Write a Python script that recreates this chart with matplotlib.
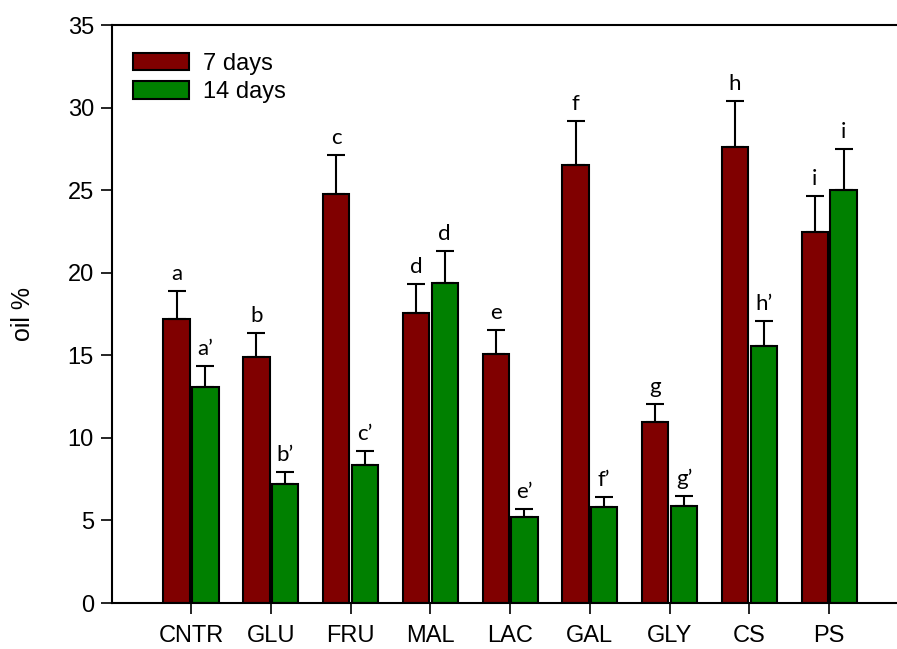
import numpy as np
import matplotlib
matplotlib.use('Agg')
from matplotlib import pyplot as plt
from matplotlib.patches import Patch

# Data #
groups = ['CNTR', 'GLU', 'FRU', 'MAL', 'LAC', 'GAL', 'GLY', 'CS', 'PS']
oil_7 = [17.2, 14.9, 24.75, 17.55, 15.1, 26.5, 10.95, 27.6, 22.45]
err_7 = [1.7, 1.45, 2.4, 1.75, 1.45, 2.7, 1.1, 2.8, 2.2]
oil_14 = [13.05, 7.2, 8.35, 19.4, 5.2, 5.8, 5.9, 15.55, 25.0]
err_14 = [1.3, 0.72, 0.85, 1.9, 0.5, 0.6, 0.55, 1.5, 2.5]
lab_7 = ['a', 'b', 'c', 'd', 'e', 'f', 'g', 'h', 'i']
lab_14 = ['a\u2019', 'b\u2019', 'c\u2019', 'd', 'e\u2019', 'f\u2019', 'g\u2019', 'h\u2019', 'i']

RED = '#800000'
GREEN = '#008000'

plt.rcParams['font.family'] = ['Liberation Sans', 'DejaVu Sans']

fig = plt.figure(figsize=(8.97, 6.49), dpi=100)
ax = fig.add_axes([112 / 897, 1 - 603 / 649, 1 - 112 / 897, (603 - 25) / 649])

x = np.arange(len(groups))
w = 0.33
off = 0.18
err_kw = dict(ecolor='black', elinewidth=1.5, capsize=6.5, capthick=1.5)
ax.bar(x - off, oil_7, w, color=RED, edgecolor='black', linewidth=1.5,
       yerr=[np.zeros(len(groups)), err_7], error_kw=err_kw, zorder=2)
ax.bar(x + off, oil_14, w, color=GREEN, edgecolor='black', linewidth=1.5,
       yerr=[np.zeros(len(groups)), err_14], error_kw=err_kw, zorder=2)

# Significance letters above the error bars #
for i in range(len(groups)):
    ax.annotate(lab_7[i], (x[i] - off, oil_7[i] + err_7[i]), xytext=(0, 8),
                textcoords='offset points', ha='center', va='baseline',
                fontsize=16, family=['Lato', 'DejaVu Sans'])
    ax.annotate(lab_14[i], (x[i] + off, oil_14[i] + err_14[i]), xytext=(0, 8),
                textcoords='offset points', ha='center', va='baseline',
                fontsize=16, family=['Lato', 'DejaVu Sans'])

ax.set_xlim(-0.99, 8.85)
ax.set_ylim(0, 35)
ax.set_xticks(x)
ax.set_xticklabels(groups)
ax.set_yticks(range(0, 36, 5))
ax.tick_params(direction='out', length=8, width=1.2, labelsize=17, colors='black')
ax.tick_params(axis='x', pad=8)
ax.tick_params(axis='y', pad=5)
ax.spines['right'].set_visible(False)
for s in ['left', 'bottom', 'top']:
    ax.spines[s].set_linewidth(1.5)
ax.set_ylabel('oil %', fontsize=18)
ax.yaxis.set_label_coords((35 - 112) / 785, 0.5)

handles = [Patch(facecolor=RED, edgecolor='black', linewidth=1.5, label='7 days'),
           Patch(facecolor=GREEN, edgecolor='black', linewidth=1.5, label='14 days')]
ax.legend(handles=handles, loc='upper left', bbox_to_anchor=(133 / 897, 1 - 53 / 649),
          bbox_transform=fig.transFigure, frameon=False, fontsize=17,
          handlelength=2.37, handleheight=0.76, handletextpad=0.6,
          labelspacing=0.27, borderpad=0, borderaxespad=0)

fig.savefig('out.png', dpi=100)
